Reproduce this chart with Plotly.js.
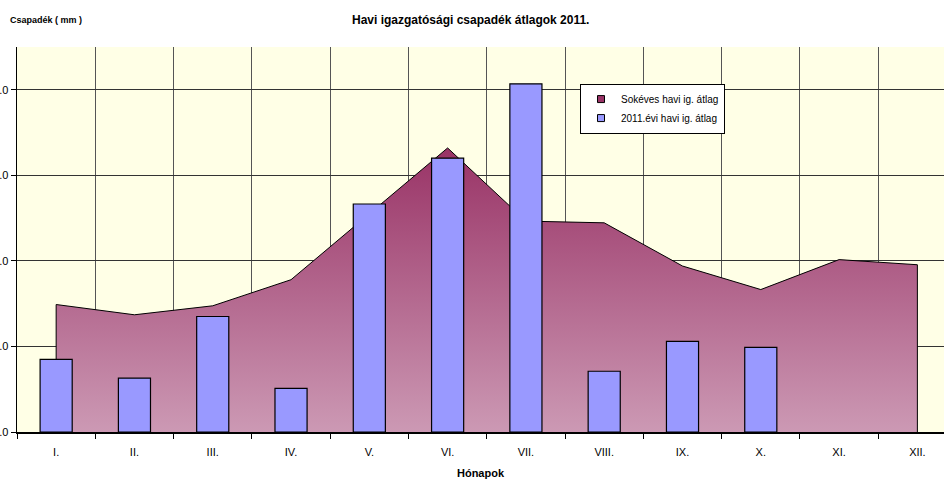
<!DOCTYPE html>
<html><head><meta charset="utf-8">
<script src="https://cdn.plot.ly/plotly-3.0.1.min.js"></script>
<style>html,body{margin:0;padding:0;background:#fff;}#chart{width:944px;height:481px;}</style>
</head><body><div id="chart"></div>
<script>
const months = ['I.','II.','III.','IV.','V.','VI.','VII.','VIII.','IX.','X.','XI.','XII.'];
const longTermAvg = [29.8, 27.4, 29.5, 35.6, 50.9, 66.4, 49.3, 48.9, 38.8, 33.3, 40.3, 39.1];
const avg2011 = [17.0, 12.6, 27.0, 10.2, 53.3, 64.0, 81.4, 14.2, 21.2, 19.8, null, null];
const yTicks = [0, 20, 40, 60, 80];
const yTickText = ['0.0', '20.0', '40.0', '60.0', '80.0'];
const seriesNames = ['Sokéves havi ig. átlag', '2011.évi havi ig. átlag'];

const font = 'Arial, "Liberation Sans", sans-serif';
const areaX = [months[0]].concat(months, [months[months.length - 1]]);
const areaY = [0].concat(longTermAvg, [0]);
const peak = Math.max.apply(null, longTermAvg);

const traces = [
  {
    type: 'scatter', mode: 'lines', name: seriesNames[0], showlegend: false,
    x: areaX, y: areaY, fill: 'toself',
    line: {color: '#000', width: 1},
    fillcolor: '#B0708F',
    fillgradient: {type: 'vertical', start: 0, stop: peak,
      colorscale: [[0, '#CC99B4'], [1, '#993366']]},
    xaxis: 'x', yaxis: 'y', hoverinfo: 'skip'
  },
  {
    type: 'bar', name: seriesNames[1], showlegend: false,
    x: months, y: avg2011, width: 0.41,
    marker: {color: '#9999FF', line: {color: '#000', width: 1.2}},
    xaxis: 'x', yaxis: 'y2'
  },
  // legend keys only (no data drawn)
  {type: 'scatter', mode: 'markers', name: seriesNames[0], x: [null], y: [null],
    marker: {symbol: 'square', size: 7, color: '#993366', line: {color: '#000', width: 1}},
    xaxis: 'x', yaxis: 'y'},
  {type: 'scatter', mode: 'markers', name: seriesNames[1], x: [null], y: [null],
    marker: {symbol: 'square', size: 7, color: '#9999FF', line: {color: '#000', width: 1}},
    xaxis: 'x', yaxis: 'y'}
];

const yRange = [0, 90];
const layout = {
  width: 944, height: 481,
  margin: {l: 17, r: 0, t: 47, b: 49},
  paper_bgcolor: '#fff', plot_bgcolor: '#FFFFE6',
  font: {family: font, size: 11, color: '#000'},
  showlegend: true,
  legend: {x: (580 - 17) / 927, y: 0.905, xanchor: 'left', yanchor: 'top',
    bgcolor: '#fff', bordercolor: '#000', borderwidth: 1,
    font: {family: font, size: 10, color: '#000'}, tracegroupgap: 4,
    itemwidth: 30, traceorder: 'normal'},
  xaxis: {type: 'category', categoryorder: 'array', categoryarray: months,
    range: [-0.5, 11.34], tickson: 'boundaries', ticks: 'outside', ticklen: 5,
    tickcolor: '#000', showgrid: true, gridcolor: '#555', gridwidth: 1,
    showline: true, linecolor: '#000', linewidth: 1.5, ticklabelstandoff: 9,
    tickfont: {family: font, size: 11, color: '#000'},
    title: {text: '<b>Hónapok</b>', font: {family: font, size: 11, color: '#000'}, standoff: 12},
    fixedrange: true},
  yaxis: {range: yRange, tickvals: yTicks, ticktext: yTickText, ticks: 'outside',
    ticklen: 5, tickcolor: '#000', showgrid: true, gridcolor: '#333', gridwidth: 1,
    showline: true, linecolor: '#000', linewidth: 1.5, zeroline: false,
    tickfont: {family: font, size: 11, color: '#000'}, fixedrange: true},
  yaxis2: {range: yRange, overlaying: 'y', showgrid: false, showticklabels: false,
    zeroline: false, showline: false, fixedrange: true},
  bargap: 0,
  annotations: [
    {text: '<b>Havi igazgatósági csapadék átlagok 2011.</b>', xref: 'paper', yref: 'paper',
      x: (470 - 17) / 927, y: 1, yshift: 27, xanchor: 'center', yanchor: 'middle', showarrow: false,
      font: {family: font, size: 12, color: '#000'}},
    {text: '<b>Csapadék ( mm )</b>', xref: 'paper', yref: 'paper',
      x: -17 / 927, xshift: 8, y: 1, yshift: 27, xanchor: 'left', yanchor: 'middle', showarrow: false,
      font: {family: font, size: 9, color: '#000'}}
  ]
};
Plotly.newPlot('chart', traces, layout, {displayModeBar: false, staticPlot: true});
</script></body></html>
